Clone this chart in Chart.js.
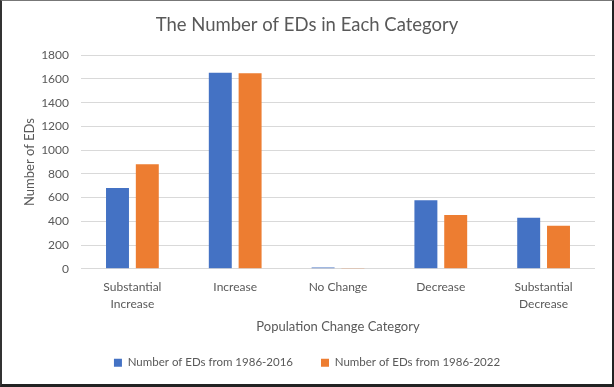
<!DOCTYPE html>
<html>
<head>
<meta charset="utf-8">
<script src="https://cdn.jsdelivr.net/npm/chart.js@4"></script>
<style>
  html, body { margin: 0; padding: 0; background: #fff; }
  #frame {
    width: 614px; height: 387px; box-sizing: border-box;
    border-top: 1px solid #777; border-left: 2px solid #333;
    border-right: 2px solid #222; border-bottom: 3px solid #222;
  }
  #wrap { position: relative; width: 610px; height: 383px; }
</style>
</head>
<body>
<div id="frame"><div id="wrap"><canvas id="edChart"></canvas></div></div>
<script>
// Chart data
const categories = [
  ['Substantial', 'Increase'],
  'Increase',
  'No Change',
  'Decrease',
  ['Substantial', 'Decrease'],
];
const eds2016 = [681, 1653, 12, 577, 431];
const eds2022 = [881, 1648, 7, 453, 363];
const seriesLabels = ['Number of EDs from 1986-2016', 'Number of EDs from 1986-2022'];

const textColor = '#595959';
const fontFamily = 'Lato, "Open Sans", sans-serif';

const datasetOptions = {
  categoryPercentage: 0.58,
  barPercentage: 0.77,
  borderWidth: 0,
};

new Chart(document.getElementById('edChart'), {
  type: 'bar',
  data: {
    labels: categories,
    datasets: [
      { label: seriesLabels[0], data: eds2016, backgroundColor: '#4472C4', ...datasetOptions },
      { label: seriesLabels[1], data: eds2022, backgroundColor: '#ED7D31', ...datasetOptions },
    ],
  },
  options: {
    responsive: true,
    maintainAspectRatio: false,
    animation: false,
    layout: { padding: { left: 0, right: 0, top: 0, bottom: 5.5 } },
    plugins: {
      title: {
        display: true,
        text: 'The Number of EDs in Each Category',
        color: textColor,
        font: { family: fontFamily, size: 18.5, weight: 'normal' },
        padding: { top: 13, bottom: 19 },
      },
      legend: {
        position: 'bottom',
        labels: {
          color: textColor,
          font: { family: fontFamily, size: 11.5 },
          boxWidth: 8,
          boxHeight: 8,
          padding: 28,
        },
      },
      tooltip: { enabled: false },
    },
    scales: {
      x: {
        grid: { display: false },
        border: { display: false },
        ticks: {
          color: textColor,
          font: { family: fontFamily, size: 12, lineHeight: 1.38 },
          padding: 2,
          maxRotation: 0,
        },
        title: {
          display: true,
          text: 'Population Change Category',
          color: textColor,
          font: { family: fontFamily, size: 13 },
          padding: { top: 0, bottom: -6 },
        },
        afterFit: (scale) => { scale.height = 60.2; },
      },
      y: {
        min: 0,
        max: 1800,
        grid: { color: '#d9d9d9', drawTicks: false },
        border: { display: false },
        ticks: {
          stepSize: 200,
          color: textColor,
          font: { family: fontFamily, size: 12 },
          padding: 12,
          callback: (value) => String(value),
        },
        title: {
          display: true,
          text: 'Number of EDs',
          color: textColor,
          font: { family: fontFamily, size: 13 },
          padding: { top: 20, bottom: 0 },
        },
        afterFit: (scale) => { scale.width = 79; },
      },
      // empty right margin so the title and legend stay centred on the frame
      spacer: {
        position: 'right',
        display: true,
        grid: { display: false },
        border: { display: false },
        ticks: { display: false },
        afterFit: (scale) => { scale.width = 17; },
      },
    },
  },
});
</script>
</body>
</html>
